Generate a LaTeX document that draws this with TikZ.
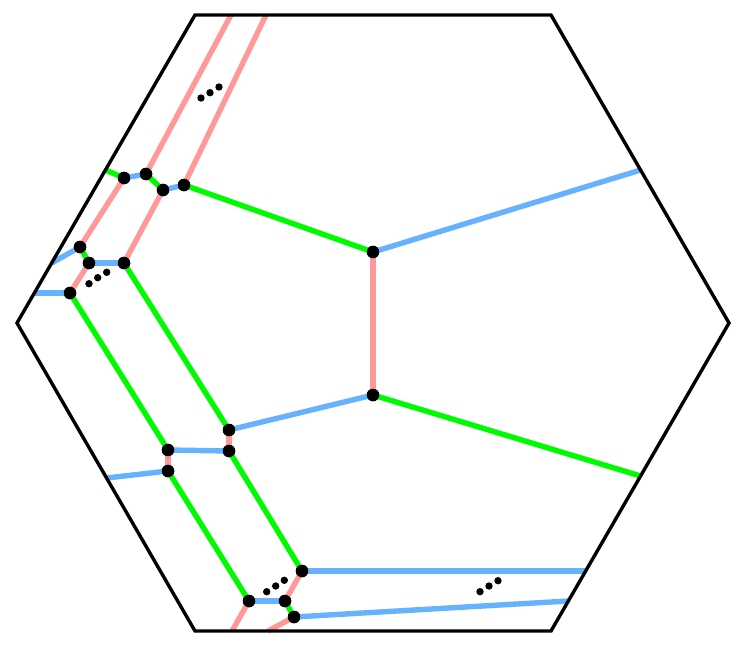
\documentclass[tikz,border=0pt]{standalone}
\definecolor{pk}{RGB}{255,153,153}
\definecolor{gr}{RGB}{0,250,0}
\definecolor{bl}{RGB}{102,178,255}
\begin{document}
\begin{tikzpicture}[x=1pt,y=-1pt,
  pinkline/.style={draw=pk,line width=5.4pt},
  greenline/.style={draw=gr,line width=5.4pt},
  blueline/.style={draw=bl,line width=5.4pt},
  vtx/.style={circle,fill=black,inner sep=0pt,minimum size=12.5pt},
  smalldot/.style={circle,fill=black,inner sep=0pt,minimum size=7.4pt},
  hexline/.style={draw=black,line width=3.4pt,line join=miter}]
\useasboundingbox (0,0) rectangle (747,648);
% hexagon corners
\coordinate (h1) at (195,15);
\coordinate (h2) at (551,15);
\coordinate (h3) at (729,323);
\coordinate (h4) at (551,631);
\coordinate (h5) at (195,631);
\coordinate (h6) at (17,323);
% boundary endpoints
\coordinate (tp1) at (231,15);
\coordinate (tp2) at (266,15);
\coordinate (rb1) at (640.6,170);
\coordinate (rg1) at (640.6,476);
\coordinate (lg1) at (105.5,170);
\coordinate (lb1) at (51.7,263);
\coordinate (lb2) at (34.5,293);
\coordinate (lb3) at (106.6,478);
\coordinate (bp1) at (232,631);
\coordinate (bp2) at (268,631);
\coordinate (rb2) at (585.7,571);
\coordinate (rb3) at (568.3,601);
% vertices
\node[vtx] (A) at (373,252) {};
\node[vtx] (B) at (373,395) {};
\node[vtx] (t1) at (124,178) {};
\node[vtx] (t2) at (146,174) {};
\node[vtx] (t3) at (163,190) {};
\node[vtx] (t4) at (184,185) {};
\node[vtx] (l1) at (80,247) {};
\node[vtx] (l2) at (89,263) {};
\node[vtx] (l3) at (124,263) {};
\node[vtx] (l4) at (70,293) {};
\node[vtx] (m1) at (168,450) {};
\node[vtx] (m2) at (168,471) {};
\node[vtx] (m3) at (229,430) {};
\node[vtx] (m4) at (229,451) {};
\node[vtx] (b1) at (249,601) {};
\node[vtx] (b2) at (285,601) {};
\node[vtx] (b3) at (302,571) {};
\node[vtx] (b4) at (294,617) {};
% edges
\path[pinkline] (A.center) -- (B.center);
\path[blueline] (A.center) -- (rb1);
\path[greenline] (A.center) -- (t4.center);
\path[greenline] (B.center) -- (rg1);
\path[blueline] (B.center) -- (m3.center);
\path[greenline] (lg1) -- (t1.center);
\path[blueline] (t1.center) -- (t2.center);
\path[greenline] (t2.center) -- (t3.center);
\path[blueline] (t3.center) -- (t4.center);
\path[pinkline] (tp1) -- (t2.center);
\path[pinkline] (tp2) -- (t4.center);
\path[pinkline] (t1.center) -- (l1.center);
\path[pinkline] (t3.center) -- (l3.center);
\path[blueline] (l1.center) -- (lb1);
\path[greenline] (l1.center) -- (l2.center);
\path[blueline] (l2.center) -- (l3.center);
\path[pinkline] (l2.center) -- (l4.center);
\path[blueline] (l4.center) -- (lb2);
\path[greenline] (l4.center) -- (m1.center);
\path[greenline] (l3.center) -- (m3.center);
\path[pinkline] (m3.center) -- (m4.center);
\path[blueline] (m1.center) -- (m4.center);
\path[pinkline] (m1.center) -- (m2.center);
\path[blueline] (m2.center) -- (lb3);
\path[greenline] (m2.center) -- (b1.center);
\path[greenline] (m4.center) -- (b3.center);
\path[pinkline] (b1.center) -- (bp1);
\path[blueline] (b1.center) -- (b2.center);
\path[pinkline] (b2.center) -- (b3.center);
\path[greenline] (b2.center) -- (b4.center);
\path[pinkline] (b4.center) -- (bp2);
\path[blueline] (b3.center) -- (rb2);
\path[blueline] (b4.center) -- (rb3);
% hexagon
\draw[hexline] (h1) -- (h2) -- (h3) -- (h4) -- (h5) -- (h6) -- cycle;
% vertices redrawn on top of the edges
\foreach \n in {A,B,t1,t2,t3,t4,l1,l2,l3,l4,m1,m2,m3,m4,b1,b2,b3,b4}
  \fill (\n.center) circle (6.25pt);
% ellipses
\node[smalldot] (e1) at (201,98) {};
\node[smalldot] (e2) at (210,92.7) {};
\node[smalldot] (e3) at (219,87) {};
\node[smalldot] (e4) at (89,283.7) {};
\node[smalldot] (e5) at (97.7,277.7) {};
\node[smalldot] (e6) at (106.7,272.3) {};
\node[smalldot] (e7) at (266.7,591.7) {};
\node[smalldot] (e8) at (275.7,586) {};
\node[smalldot] (e9) at (284.3,580.3) {};
\node[smalldot] (e10) at (480,591.7) {};
\node[smalldot] (e11) at (489,586) {};
\node[smalldot] (e12) at (498,580.7) {};
\end{tikzpicture}
\end{document}
